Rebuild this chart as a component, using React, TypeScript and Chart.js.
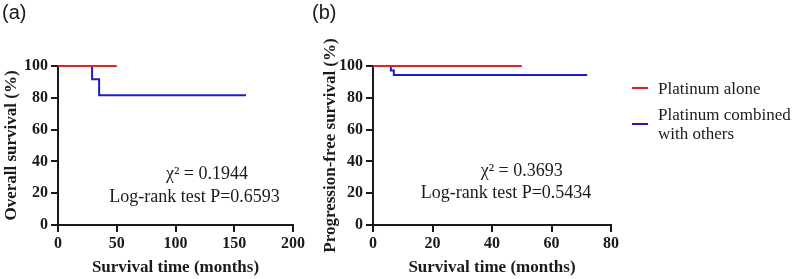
import React, { useEffect, useRef } from "react";
import { Chart, registerables } from "chart.js";

Chart.register(...registerables);

// ---- data ----
const osAloneMonths = [0, 50];
const osAloneSurvival = [100, 100];
const osCombinedMonths = [0, 29, 35, 160];
const osCombinedSurvival = [100, 91.67, 81.67, 81.67];

const pfsAloneMonths = [0, 50];
const pfsAloneSurvival = [100, 100];
const pfsCombinedMonths = [0, 6, 7, 72];
const pfsCombinedSurvival = [100, 97.14, 94.29, 94.29];

const yTickValues = [0, 20, 40, 60, 80, 100];
const osXTickValues = [0, 50, 100, 150, 200];
const pfsXTickValues = [0, 20, 40, 60, 80];

const seriesNames = ["Platinum alone", "Platinum combined with others"];
const legendLines = [["Platinum alone"], ["Platinum combined", "with others"]];
const osStats = ["\u03C7\u00B2 = 0.1944", "Log-rank test P=0.6593"];
const pfsStats = ["\u03C7\u00B2 = 0.3693", "Log-rank test P=0.5434"];

const RED = "#f21d1d";
const BLUE = "#1c1cc6";
const INK = "#1a1a1a";
const SERIF = "'Liberation Serif', 'Times New Roman', serif";
const SANS = "'Liberation Sans', Arial, sans-serif";
const H = 279;

const overlayPlugin = {
  id: "overlayText",
  afterDraw(chart: any, _args: any, opts: any) {
    const ctx = chart.ctx;
    (opts.segments || []).forEach((s: any) => {
      ctx.save();
      ctx.strokeStyle = s.color;
      ctx.lineWidth = 2;
      ctx.beginPath();
      ctx.moveTo(s.x1, s.y);
      ctx.lineTo(s.x2, s.y);
      ctx.stroke();
      ctx.restore();
    });
    (opts.items || []).forEach((it: any) => {
      ctx.save();
      ctx.font = it.font;
      ctx.fillStyle = it.color || INK;
      ctx.textAlign = it.align || "center";
      ctx.textBaseline = it.baseline || "middle";
      ctx.fillText(it.text, it.x, it.y);
      ctx.restore();
    });
  },
};

type PanelProps = {
  left: number;
  width: number;
  axisWidth: number;
  rightPad: number;
  yTitlePad: number;
  aloneMonths: number[];
  aloneSurv: number[];
  combMonths: number[];
  combSurv: number[];
  xTicks: number[];
  yTitle: string;
  label: string;
  labelX: number;
  stats: string[];
  statPos: number[][];
  legendX?: number;
};

function KMPanel(p: PanelProps) {
  const ref = useRef<HTMLCanvasElement | null>(null);
  useEffect(() => {
    if (!ref.current) return;
    const toPts = (xs: number[], ys: number[]) => xs.map((x, i) => ({ x, y: ys[i] }));
    const tickFont = { family: SERIF, size: 16, weight: "bold" as const };
    const titleFont = { family: SERIF, size: 17, weight: "bold" as const };
    const grid = {
      display: true,
      drawOnChartArea: false,
      drawTicks: true,
      tickLength: 7,
      lineWidth: 2,
      color: INK,
    };
    const items: any[] = [
      { text: p.label, x: p.labelX, y: 13, font: `20px ${SANS}`, align: "left" },
      { text: p.stats[0], x: p.statPos[0][0], y: p.statPos[0][1], font: `18px ${SERIF}` },
      { text: p.stats[1], x: p.statPos[1][0], y: p.statPos[1][1], font: `18px ${SERIF}` },
    ];
    const segments: any[] = [];
    if (p.legendX !== undefined) {
      const lx = p.legendX;
      const legendFont = `17px ${SERIF}`;
      segments.push({ x1: lx, x2: lx + 16, y: 88, color: RED });
      segments.push({ x1: lx, x2: lx + 16, y: 124, color: BLUE });
      items.push({ text: legendLines[0][0], x: lx + 26, y: 93.5, font: legendFont, align: "left", baseline: "alphabetic" });
      items.push({ text: legendLines[1][0], x: lx + 26, y: 120, font: legendFont, align: "left", baseline: "alphabetic" });
      items.push({ text: legendLines[1][1], x: lx + 26, y: 139, font: legendFont, align: "left", baseline: "alphabetic" });
    }
    const chart = new Chart(ref.current, {
      type: "line",
      data: {
        datasets: [
          {
            label: seriesNames[0],
            data: toPts(p.aloneMonths, p.aloneSurv),
            borderColor: RED,
            borderWidth: 2,
            stepped: "before",
            pointRadius: 0,
            fill: false,
            clip: false,
          },
          {
            label: seriesNames[1],
            data: toPts(p.combMonths, p.combSurv),
            borderColor: BLUE,
            borderWidth: 2,
            stepped: "before",
            pointRadius: 0,
            fill: false,
            clip: false,
          },
        ],
      },
      options: {
        animation: false,
        responsive: false,
        layout: { padding: { top: 66, right: p.rightPad, left: 0, bottom: 0 } },
        plugins: {
          legend: { display: false },
          tooltip: { enabled: false },
          overlayText: { items, segments },
        } as any,
        scales: {
          x: {
            type: "linear",
            min: p.xTicks[0],
            max: p.xTicks[p.xTicks.length - 1],
            afterBuildTicks: (s: any) => {
              s.ticks = p.xTicks.map((v) => ({ value: v }));
            },
            afterFit: (s: any) => {
              s.height = H - 225;
            },
            ticks: { font: tickFont, color: INK, padding: 2 },
            grid,
            border: { display: true, width: 2, color: INK },
            title: {
              display: true,
              text: "Survival time (months)",
              font: titleFont,
              color: INK,
              padding: { top: 0, bottom: 1 },
            },
          },
          y: {
            type: "linear",
            min: 0,
            max: 100,
            afterBuildTicks: (s: any) => {
              s.ticks = yTickValues.map((v) => ({ value: v }));
            },
            afterFit: (s: any) => {
              s.width = p.axisWidth;
            },
            ticks: { font: tickFont, color: INK, padding: 3 },
            grid,
            border: { display: true, width: 2, color: INK },
            title: {
              display: true,
              text: p.yTitle,
              font: titleFont,
              color: INK,
              padding: { top: p.yTitlePad, bottom: 0 },
            },
          },
        },
      },
      plugins: [overlayPlugin],
    } as any);
    return () => chart.destroy();
  }, []);
  return (
    <canvas
      ref={ref}
      width={p.width}
      height={H}
      style={{ position: "absolute", left: p.left, top: 0, width: p.width, height: H }}
    />
  );
}

export default function App() {
  return (
    <div style={{ position: "absolute", left: 0, top: 0, width: 797, height: H, background: "#fff", overflow: "hidden" }}>
      <KMPanel
        left={0}
        width={310}
        axisWidth={58}
        rightPad={17}
        yTitlePad={1}
        aloneMonths={osAloneMonths}
        aloneSurv={osAloneSurvival}
        combMonths={osCombinedMonths}
        combSurv={osCombinedSurvival}
        xTicks={osXTickValues}
        yTitle="Overall survival (%)"
        label="(a)"
        labelX={2}
        stats={osStats}
        statPos={[[207, 174], [194.5, 197]]}
      />
      <KMPanel
        left={305}
        width={492}
        axisWidth={68}
        rightPad={186}
        yTitlePad={15}
        aloneMonths={pfsAloneMonths}
        aloneSurv={pfsAloneSurvival}
        combMonths={pfsCombinedMonths}
        combSurv={pfsCombinedSurvival}
        xTicks={pfsXTickValues}
        yTitle="Progression-free survival (%)"
        label="(b)"
        labelX={7}
        stats={pfsStats}
        statPos={[[216.7, 171.5], [201, 193.5]]}
        legendX={327}
      />
    </div>
  );
}
